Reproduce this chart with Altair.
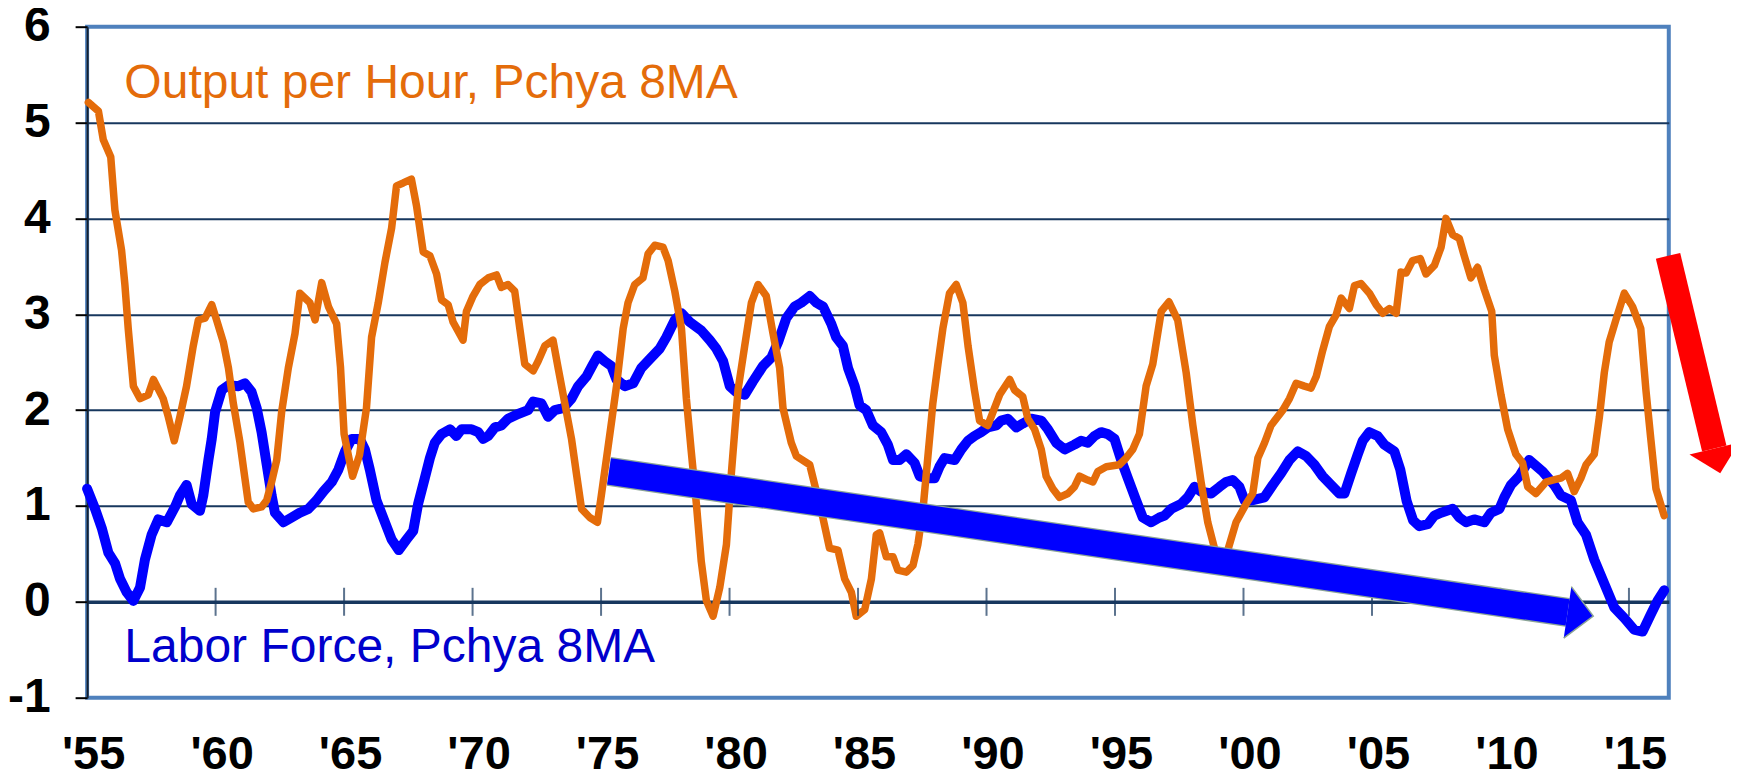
import altair as alt
import pandas as pd

# ---- Output per Hour, Pchya 8MA (orange) ----
opw_year = [1955.05, 1955.44, 1955.63, 1955.92, 1956.08, 1956.34, 1956.47, 1956.6, 1956.8, 1957.06,
            1957.38, 1957.58, 1957.96, 1958.16, 1958.39, 1958.61, 1958.87, 1959.13, 1959.33, 1959.59,
            1959.85, 1960.04, 1960.3, 1960.5, 1960.69, 1960.95, 1961.14, 1961.27, 1961.47, 1961.79,
            1961.99, 1962.18, 1962.38, 1962.57, 1962.83, 1963.09, 1963.28, 1963.67, 1963.87, 1964.13,
            1964.39, 1964.71, 1964.86, 1965.0, 1965.33, 1965.6, 1965.87, 1966.07, 1966.33, 1966.59,
            1966.85, 1967.04, 1967.3, 1967.62, 1967.82, 1968.08, 1968.34, 1968.6, 1968.79, 1969.05,
            1969.24, 1969.63, 1969.76, 1970.02, 1970.28, 1970.61, 1970.93, 1971.12, 1971.38, 1971.64,
            1971.84, 1972.03, 1972.36, 1972.55, 1972.81, 1973.13, 1973.33, 1973.59, 1973.85, 1974.04,
            1974.24, 1974.56, 1974.86, 1975.01, 1975.27, 1975.6, 1975.86, 1976.05, 1976.31, 1976.63,
            1976.83, 1977.09, 1977.41, 1977.61, 1977.87, 1978.13, 1978.32, 1978.51, 1978.71, 1978.9,
            1979.1, 1979.36, 1979.62, 1979.88, 1980.07, 1980.33, 1980.59, 1980.85, 1981.11, 1981.43,
            1981.69, 1981.95, 1982.08, 1982.4, 1982.6, 1983.12, 1983.38, 1983.63, 1983.89, 1984.22,
            1984.48, 1984.74, 1984.93, 1985.26, 1985.52, 1985.71, 1985.84, 1986.1, 1986.36, 1986.55,
            1986.88, 1987.14, 1987.33, 1987.53, 1987.72, 1987.91, 1988.11, 1988.3, 1988.56, 1988.82,
            1989.08, 1989.28, 1989.53, 1989.73, 1990.05, 1990.25, 1990.51, 1990.9, 1991.09, 1991.41,
            1991.61, 1991.87, 1992.13, 1992.32, 1992.58, 1992.84, 1993.17, 1993.42, 1993.62, 1993.94,
            1994.14, 1994.33, 1994.66, 1995.17, 1995.43, 1995.69, 1995.95, 1996.21, 1996.47, 1996.8,
            1997.1, 1997.44, 1997.77, 1998.03, 1998.35, 1998.61, 1998.87, 1999.1, 1999.39, 1999.71,
            2000.1, 2000.36, 2000.56, 2000.82, 2001.07, 2001.53, 2001.79, 2002.05, 2002.37, 2002.63,
            2002.83, 2003.08, 2003.34, 2003.6, 2003.8, 2004.12, 2004.32, 2004.57, 2004.9, 2005.16,
            2005.42, 2005.68, 2005.94, 2006.13, 2006.33, 2006.58, 2006.88, 2007.1, 2007.43, 2007.69,
            2007.88, 2008.14, 2008.4, 2008.59, 2008.85, 2009.11, 2009.37, 2009.66, 2009.76, 2010.02,
            2010.28, 2010.6, 2010.86, 2011.06, 2011.38, 2011.77, 2012.03, 2012.35, 2012.61, 2012.87,
            2013.13, 2013.33, 2013.65, 2013.85, 2014.04, 2014.23, 2014.49, 2014.82, 2015.14, 2015.46,
            2015.66, 2015.85, 2016.05, 2016.37]
opw_value = [5.21, 5.12, 4.82, 4.64, 4.09, 3.67, 3.31, 2.85, 2.25, 2.12,
             2.16, 2.32, 2.12, 1.93, 1.68, 1.93, 2.25, 2.67, 2.94, 2.96,
             3.10, 2.94, 2.71, 2.44, 2.07, 1.66, 1.29, 1.04, 0.97, 0.99,
             1.06, 1.25, 1.48, 1.98, 2.44, 2.80, 3.22, 3.12, 2.94, 3.33,
             3.08, 2.90, 2.45, 1.75, 1.31, 1.53, 2.02, 2.76, 3.12, 3.54,
             3.90, 4.34, 4.37, 4.41, 4.13, 3.65, 3.61, 3.42, 3.15, 3.10,
             2.92, 2.73, 3.03, 3.19, 3.31, 3.38, 3.41, 3.28, 3.31, 3.24,
             2.85, 2.48, 2.41, 2.51, 2.67, 2.73, 2.44, 2.07, 1.70, 1.34,
             0.97, 0.88, 0.83, 1.11, 1.61, 2.25, 2.85, 3.12, 3.31, 3.38,
             3.63, 3.72, 3.70, 3.56, 3.24, 2.85, 2.12, 1.57, 1.02, 0.42,
             0.01, -0.15, 0.15, 0.60, 1.34, 2.21, 2.67, 3.12, 3.31, 3.19,
             2.80, 2.44, 2.02, 1.66, 1.52, 1.43, 1.15, 0.88, 0.56, 0.54,
             0.24, 0.10, -0.15, -0.08, 0.24, 0.70, 0.72, 0.47, 0.47, 0.33,
             0.31, 0.38, 0.60, 0.97, 1.52, 2.07, 2.48, 2.85, 3.22, 3.31,
             3.12, 2.67, 2.21, 1.89, 1.84, 1.98, 2.16, 2.32, 2.21, 2.14,
             1.91, 1.80, 1.59, 1.31, 1.18, 1.09, 1.13, 1.20, 1.31, 1.27,
             1.25, 1.36, 1.41, 1.43, 1.50, 1.59, 1.75, 2.25, 2.48, 3.03,
             3.13, 2.94, 2.39, 1.84, 1.25, 0.83, 0.56, 0.42, 0.54, 0.83,
             1.02, 1.13, 1.50, 1.66, 1.84, 2.00, 2.12, 2.28, 2.25, 2.23,
             2.35, 2.62, 2.87, 2.99, 3.17, 3.06, 3.30, 3.32, 3.22, 3.10,
             3.01, 3.06, 3.01, 3.44, 3.43, 3.56, 3.58, 3.42, 3.51, 3.70,
             4.00, 3.83, 3.79, 3.61, 3.38, 3.49, 3.26, 3.03, 2.57, 2.16,
             1.80, 1.54, 1.45, 1.20, 1.13, 1.25, 1.27, 1.29, 1.34, 1.15,
             1.29, 1.43, 1.54, 1.93, 2.39, 2.71, 2.94, 3.22, 3.08, 2.85,
             2.21, 1.70, 1.18, 0.90]

# ---- Labor Force, Pchya 8MA (blue) ----
lf_year = [1955.0, 1955.31, 1955.57, 1955.83, 1956.09, 1956.28, 1956.54, 1956.8, 1957.06, 1957.25,
           1957.51, 1957.77, 1958.1, 1958.42, 1958.61, 1958.87, 1959.07, 1959.39, 1959.52, 1959.72,
           1959.85, 1959.98, 1960.24, 1960.5, 1960.89, 1961.14, 1961.4, 1961.6, 1961.79, 1961.99,
           1962.18, 1962.31, 1962.64, 1962.96, 1963.28, 1963.61, 1963.93, 1964.19, 1964.52, 1964.78,
           1965.04, 1965.29, 1965.61, 1965.81, 1966.0, 1966.26, 1966.59, 1966.85, 1967.13, 1967.43,
           1967.69, 1967.88, 1968.14, 1968.34, 1968.53, 1968.79, 1969.12, 1969.37, 1969.57, 1969.96,
           1970.22, 1970.41, 1970.61, 1970.87, 1971.12, 1971.38, 1971.77, 1972.16, 1972.36, 1972.68,
           1972.94, 1973.2, 1973.52, 1973.85, 1974.11, 1974.43, 1974.69, 1974.88, 1975.14, 1975.4,
           1975.6, 1975.92, 1976.25, 1976.57, 1976.89, 1977.28, 1977.54, 1977.87, 1978.13, 1978.45,
           1978.9, 1979.23, 1979.49, 1979.75, 1980.01, 1980.26, 1980.59, 1980.91, 1981.3, 1981.63,
           1981.89, 1982.21, 1982.53, 1982.79, 1983.12, 1983.38, 1983.64, 1983.96, 1984.15, 1984.41,
           1984.61, 1984.87, 1985.06, 1985.32, 1985.58, 1985.9, 1986.16, 1986.36, 1986.62, 1986.88,
           1987.2, 1987.4, 1987.72, 1987.98, 1988.17, 1988.37, 1988.76, 1989.02, 1989.28, 1989.53,
           1989.79, 1990.05, 1990.38, 1990.57, 1990.83, 1991.16, 1991.41, 1991.74, 1992.13, 1992.39,
           1992.71, 1993.04, 1993.42, 1993.68, 1993.94, 1994.2, 1994.46, 1994.72, 1994.98, 1995.24,
           1995.5, 1995.82, 1996.08, 1996.41, 1996.73, 1996.93, 1997.19, 1997.57, 1997.83, 1998.09,
           1998.35, 1998.74, 1999.07, 1999.32, 1999.58, 1999.84, 2000.04, 2000.36, 2000.81, 2001.14,
           2001.46, 2001.79, 2002.11, 2002.44, 2002.76, 2003.08, 2003.41, 2003.73, 2003.93, 2004.19,
           2004.45, 2004.64, 2004.9, 2005.22, 2005.48, 2005.87, 2006.1, 2006.35, 2006.6, 2006.84,
           2007.17, 2007.43, 2007.69, 2008.14, 2008.4, 2008.66, 2008.98, 2009.37, 2009.63, 2009.96,
           2010.15, 2010.41, 2010.73, 2011.12, 2011.64, 2012.09, 2012.35, 2012.74, 2013.0, 2013.33,
           2013.65, 2014.04, 2014.43, 2014.82, 2015.2, 2015.53, 2015.85, 2016.11, 2016.37]
lf_value = [1.18, 0.97, 0.77, 0.51, 0.40, 0.24, 0.10, 0.01, 0.15, 0.44,
            0.70, 0.86, 0.83, 0.99, 1.11, 1.22, 1.02, 0.95, 1.11, 1.48,
            1.70, 1.98, 2.21, 2.26, 2.25, 2.28, 2.19, 2.02, 1.77, 1.43,
            1.11, 0.93, 0.83, 0.88, 0.93, 0.97, 1.06, 1.15, 1.25, 1.38,
            1.57, 1.70, 1.70, 1.59, 1.38, 1.06, 0.83, 0.65, 0.54, 0.65,
            0.74, 1.02, 1.29, 1.50, 1.66, 1.75, 1.80, 1.73, 1.80, 1.80,
            1.77, 1.70, 1.73, 1.82, 1.84, 1.91, 1.96, 2.00, 2.09, 2.07,
            1.93, 2.00, 2.02, 2.12, 2.25, 2.35, 2.48, 2.57, 2.51, 2.46,
            2.32, 2.25, 2.28, 2.44, 2.53, 2.64, 2.76, 2.94, 3.01, 2.92,
            2.83, 2.73, 2.64, 2.51, 2.25, 2.19, 2.16, 2.30, 2.46, 2.55,
            2.71, 2.96, 3.08, 3.12, 3.19, 3.12, 3.08, 2.90, 2.76, 2.67,
            2.44, 2.25, 2.05, 2.00, 1.84, 1.77, 1.64, 1.48, 1.48, 1.54,
            1.45, 1.31, 1.29, 1.29, 1.41, 1.50, 1.48, 1.59, 1.68, 1.73,
            1.77, 1.82, 1.84, 1.89, 1.91, 1.82, 1.86, 1.91, 1.89, 1.80,
            1.66, 1.59, 1.64, 1.68, 1.66, 1.73, 1.77, 1.75, 1.70, 1.48,
            1.29, 1.06, 0.88, 0.83, 0.88, 0.90, 0.97, 1.02, 1.09, 1.20,
            1.15, 1.13, 1.20, 1.25, 1.27, 1.20, 1.06, 1.06, 1.09, 1.22,
            1.34, 1.48, 1.57, 1.52, 1.43, 1.31, 1.22, 1.13, 1.13, 1.34,
            1.54, 1.68, 1.77, 1.73, 1.64, 1.57, 1.38, 1.05, 0.85, 0.79,
            0.81, 0.90, 0.93, 0.97, 0.88, 0.83, 0.86, 0.83, 0.93, 0.97,
            1.09, 1.22, 1.31, 1.48, 1.36, 1.22, 1.11, 1.06, 0.83, 0.70,
            0.44, 0.19, -0.06, -0.17, -0.29, -0.31, -0.13, 0.01, 0.12]

# ---- axes ----
x_label_years = [1955, 1960, 1965, 1970, 1975, 1980, 1985, 1990, 1995, 2000, 2005, 2010, 2015]
x_label_text = ["'55", "'60", "'65", "'70", "'75", "'80", "'85", "'90", "'95", "'00", "'05", "'10", "'15"]
x_tick_years = [1960, 1965, 1970, 1975, 1980, 1985, 1990, 1995, 2000, 2005, 2010, 2015]
y_tick_values = [-1, 0, 1, 2, 3, 4, 5, 6]
y_tick_text = ["-1", "0", "1", "2", "3", "4", "5", "6"]

# ---- annotations (data units) ----
series_labels = ["Output per Hour, Pchya 8MA", "Labor Force, Pchya 8MA"]
label_year = [1956.45, 1956.45]
label_value = [5.253, -0.625]

# arrows: tail point -> head base point, head direction (deg)
blue_arrow_pts = {"year": [1975.31], "value": [1.36], "year2": [2012.61], "value2": [-0.11]}
red_arrow_pts = {"year": [2016.52], "value": [3.61], "year2": [2018.32], "value2": [1.60]}
blue_arrow_angle = 8.4
red_arrow_angle = 76.5

ORANGE = "#e46c0a"
BLUE = "#0000ff"
NAVY = "#17375e"
HEAD = "M0,-1L1,0L0,1"


def lookup_expr(vals, texts):
    expr = "''"
    for v, t in reversed(list(zip(vals, texts))):
        expr = f'datum.value == {v} ? "{t}" : ({expr})'
    return expr


opw = pd.DataFrame({"year": opw_year, "value": opw_value})
lf = pd.DataFrame({"year": lf_year, "value": lf_value})
ticks_df = pd.DataFrame({"year": x_tick_years, "value": [0] * len(x_tick_years)})
blue_arrow = pd.DataFrame(blue_arrow_pts)
red_arrow = pd.DataFrame(red_arrow_pts)

x_scale = alt.Scale(domain=[1955, 2016.55], nice=False, zero=False)
y_scale = alt.Scale(domain=[-1, 6], nice=False, zero=False)

x_axis = alt.Axis(values=x_label_years, labelExpr=lookup_expr(x_label_years, x_label_text),
                  grid=False, domain=False, ticks=False, tickSize=0,
                  labelFont="Liberation Sans", labelFontWeight="bold", labelFontSize=47,
                  labelColor="black", labelPadding=71, labelBaseline="alphabetic",
                  labelAlign="center", labelFlush=False, labelOverlap=False, labelOffset=6,
                  title=None)
y_axis = alt.Axis(values=y_tick_values, labelExpr=lookup_expr(y_tick_values, y_tick_text),
                  grid=True, gridColor=NAVY,
                  gridWidth={"condition": {"test": "datum.value === 0", "value": 3.5}, "value": 2},
                  gridOpacity={"condition": {"test": "datum.value === 6 || datum.value === -1", "value": 0},
                               "value": 1},
                  domain=True, domainColor="#14202e", domainWidth=2,
                  ticks=True, tickSize=12, tickColor="black", tickWidth=2,
                  labelFont="Liberation Sans", labelFontWeight="bold", labelFontSize=48,
                  labelColor="black", labelPadding=25, labelBaseline="middle", labelAlign="right",
                  title=None)

base_lf = alt.Chart(lf).mark_line(color=BLUE, strokeWidth=10, strokeJoin="round", strokeCap="round").encode(
    x=alt.X("year:Q", scale=x_scale, axis=x_axis),
    y=alt.Y("value:Q", scale=y_scale, axis=y_axis),
)
line_opw = alt.Chart(opw).mark_line(color=ORANGE, strokeWidth=7.5, strokeJoin="round", strokeCap="round").encode(
    x="year:Q", y="value:Q"
)
xticks = alt.Chart(ticks_df).mark_tick(orient="vertical", color=NAVY, size=28, thickness=2).encode(
    x="year:Q", y="value:Q"
)

blue_outline = alt.Chart(blue_arrow).mark_rule(color="#8aa396", strokeWidth=29).encode(
    x="year:Q", y="value:Q", x2="year2:Q", y2="value2:Q")
blue_shaft = alt.Chart(blue_arrow).mark_rule(color=BLUE, strokeWidth=26.5).encode(
    x="year:Q", y="value:Q", x2="year2:Q", y2="value2:Q")
blue_head = alt.Chart(blue_arrow).mark_point(shape=HEAD, size=2704, angle=blue_arrow_angle, filled=True,
                                             fill=BLUE, stroke="#8aa396", strokeWidth=1.5, opacity=1).encode(
    x="year2:Q", y="value2:Q")

red_shaft = alt.Chart(red_arrow).mark_rule(color="#ff0000", strokeWidth=25).encode(
    x="year:Q", y="value:Q", x2="year2:Q", y2="value2:Q")
red_head = alt.Chart(red_arrow).mark_point(shape=HEAD, size=2601, angle=red_arrow_angle, filled=True,
                                           fill="#ff0000", strokeWidth=0, opacity=1).encode(
    x="year2:Q", y="value2:Q")

txt_opw = alt.Chart().mark_text(text=series_labels[0], color=ORANGE, font="Liberation Sans", fontSize=48,
                                align="left", baseline="alphabetic").encode(
    x=alt.datum(label_year[0]), y=alt.datum(label_value[0]))
txt_lf = alt.Chart().mark_text(text=series_labels[1], color="#0000cc", font="Liberation Sans", fontSize=48,
                               align="left", baseline="alphabetic").encode(
    x=alt.datum(label_year[1]), y=alt.datum(label_value[1]))

chart = alt.layer(
    base_lf, line_opw, xticks, blue_outline, blue_shaft, blue_head, red_shaft, red_head, txt_opw, txt_lf
).properties(
    width=1581.7, height=671,
    padding={"left": 79.1, "top": 18.7, "right": 62, "bottom": 74},
    autosize=alt.AutoSizeParams(type="none"),
    background="white",
).configure_view(stroke="#4f81bd", strokeWidth=4)

chart.save("out.html", embed_options={"renderer": "svg", "actions": False})
